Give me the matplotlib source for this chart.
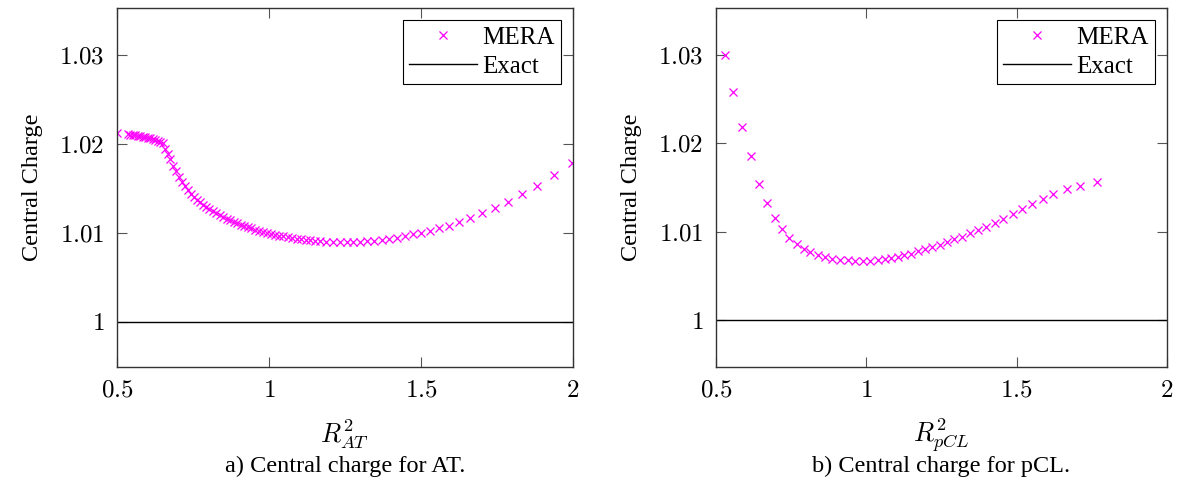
import matplotlib
matplotlib.use("Agg")
import matplotlib.pyplot as plt

plt.rcParams['font.family'] = ['Liberation Serif', 'DejaVu Serif']
plt.rcParams['mathtext.fontset'] = 'cm'

# --- a) AT model ---
at_r2 = [0.5000, 0.5346, 0.5429, 0.5511, 0.5593, 0.5676, 0.5758, 0.5841, 0.5923, 0.6006,
         0.6088, 0.6170, 0.6253, 0.6335, 0.6418, 0.6500, 0.6582, 0.6665, 0.6747, 0.6846,
         0.6945, 0.7044, 0.7143, 0.7242, 0.7341, 0.7440, 0.7539, 0.7637, 0.7736, 0.7835,
         0.7934, 0.8033, 0.8148, 0.8264, 0.8379, 0.8495, 0.8610, 0.8725, 0.8841, 0.8956,
         0.9072, 0.9187, 0.9302, 0.9418, 0.9549, 0.9681, 0.9813, 0.9945, 1.0077, 1.0209,
         1.0341, 1.0473, 1.0621, 1.0769, 1.0918, 1.1066, 1.1214, 1.1363, 1.1528, 1.1692,
         1.1890, 1.2111, 1.2329, 1.2550, 1.2771, 1.3002, 1.3232, 1.3463, 1.3704, 1.3958,
         1.4198, 1.4472, 1.4725, 1.5012, 1.5296, 1.5593, 1.5922, 1.6265, 1.6615, 1.6991,
         1.7419, 1.7858, 1.8310, 1.8814, 1.9374, 1.9967]
at_c = [1.02120, 1.02109, 1.02106, 1.02102, 1.02099, 1.02094, 1.02090, 1.02084, 1.02079, 1.02072,
        1.02064, 1.02056, 1.02047, 1.02037, 1.02025, 1.02006, 1.01949, 1.01888, 1.01826, 1.01758,
        1.01691, 1.01629, 1.01573, 1.01525, 1.01481, 1.01440, 1.01404, 1.01371, 1.01343, 1.01317,
        1.01292, 1.01270, 1.01245, 1.01221, 1.01200, 1.01179, 1.01160, 1.01142, 1.01125, 1.01109,
        1.01093, 1.01079, 1.01065, 1.01052, 1.01037, 1.01024, 1.01011, 1.01000, 1.00989, 1.00979,
        1.00970, 1.00961, 1.00952, 1.00944, 1.00936, 1.00929, 1.00922, 1.00917, 1.00911, 1.00906,
        1.00901, 1.00897, 1.00894, 1.00894, 1.00896, 1.00899, 1.00906, 1.00913, 1.00924, 1.00935,
        1.00948, 1.00965, 1.00983, 1.01003, 1.01026, 1.01053, 1.01083, 1.01122, 1.01167, 1.01220,
        1.01282, 1.01353, 1.01435, 1.01531, 1.01652, 1.01783]

# --- b) pCL model ---
pcl_r2 = [0.530, 0.558, 0.588, 0.616, 0.642, 0.669, 0.695, 0.719, 0.744, 0.768,
          0.792, 0.814, 0.838, 0.861, 0.886, 0.911, 0.938, 0.962, 0.988, 1.013,
          1.038, 1.062, 1.083, 1.105, 1.125, 1.149, 1.173, 1.196, 1.220, 1.244,
          1.269, 1.293, 1.319, 1.344, 1.372, 1.399, 1.427, 1.456, 1.487, 1.517,
          1.550, 1.586, 1.622, 1.666, 1.711, 1.767]
pcl_c = [1.03000, 1.02585, 1.02188, 1.01857, 1.01545, 1.01328, 1.01155, 1.01027, 1.00932, 1.00858,
         1.00809, 1.00770, 1.00738, 1.00713, 1.00694, 1.00683, 1.00676, 1.00671, 1.00668, 1.00668,
         1.00674, 1.00685, 1.00700, 1.00717, 1.00732, 1.00751, 1.00778, 1.00800, 1.00823, 1.00849,
         1.00880, 1.00914, 1.00943, 1.00982, 1.01019, 1.01053, 1.01098, 1.01147, 1.01200, 1.01253,
         1.01313, 1.01370, 1.01426, 1.01480, 1.01517, 1.01566]

exact_r2 = [0.5, 2.0]
exact_c = [1.0, 1.0]

xticks = [0.5, 1, 1.5, 2]
xtick_labels = ['$0.5$', '$1$', '$1.5$', '$2$']
yticks = [1.0, 1.01, 1.02, 1.03]
ytick_labels = ['$1$', '$1.01$', '$1.02$', '$1.03$']

W, H = 1179, 490
fig = plt.figure(figsize=(W / 100, H / 100), dpi=100)

panels = [
    (117, 573, at_r2, at_c, r'$R^2_{AT}$', 'a) Central charge for AT.', (0.99494, 1.03528)),
    (716, 1167, pcl_r2, pcl_c, r'$R^2_{pCL}$', 'b) Central charge for pCL.', (0.99468, 1.03532)),
]

for x0, x1, xs, ys, xlab, caption, ylim in panels:
    ax = fig.add_axes([x0 / W, 1 - 367 / H, (x1 - x0) / W, 359 / H])
    ax.plot(xs, ys, linestyle='none', marker='x', color='#ff00ff', markersize=6,
            markeredgewidth=0.9, label='MERA')
    ax.plot(exact_r2, exact_c, color='black', linewidth=1.0, label='Exact')
    ax.set_xlim(0.5, 2.0)
    ax.set_ylim(*ylim)
    ax.set_xticks(xticks)
    ax.set_xticklabels(xtick_labels)
    ax.set_yticks(yticks)
    ax.set_yticklabels(ytick_labels)
    ax.tick_params(direction='in', length=7, width=0.8, color='#555555',
                   labelsize=18, top=True, right=True, pad=9)
    for s in ax.spines.values():
        s.set_linewidth(1.0)
        s.set_color('#333333')
    ax.set_ylabel('Central Charge', fontsize=17.5, labelpad=12)
    ax.set_xlabel(xlab, fontsize=19, labelpad=11)
    leg = ax.legend(loc='upper right', fontsize=18, frameon=True, fancybox=False,
                    edgecolor='black', framealpha=1, handlelength=2.7,
                    borderaxespad=0.5, borderpad=0.25, labelspacing=0.25, handletextpad=0.2)
    leg.get_frame().set_linewidth(0.8)
    fig.text((x0 + x1) / 2 / W, 1 - 466 / H, caption, ha='center', va='center', fontsize=17.5)

fig.savefig('out.png', dpi=100)
